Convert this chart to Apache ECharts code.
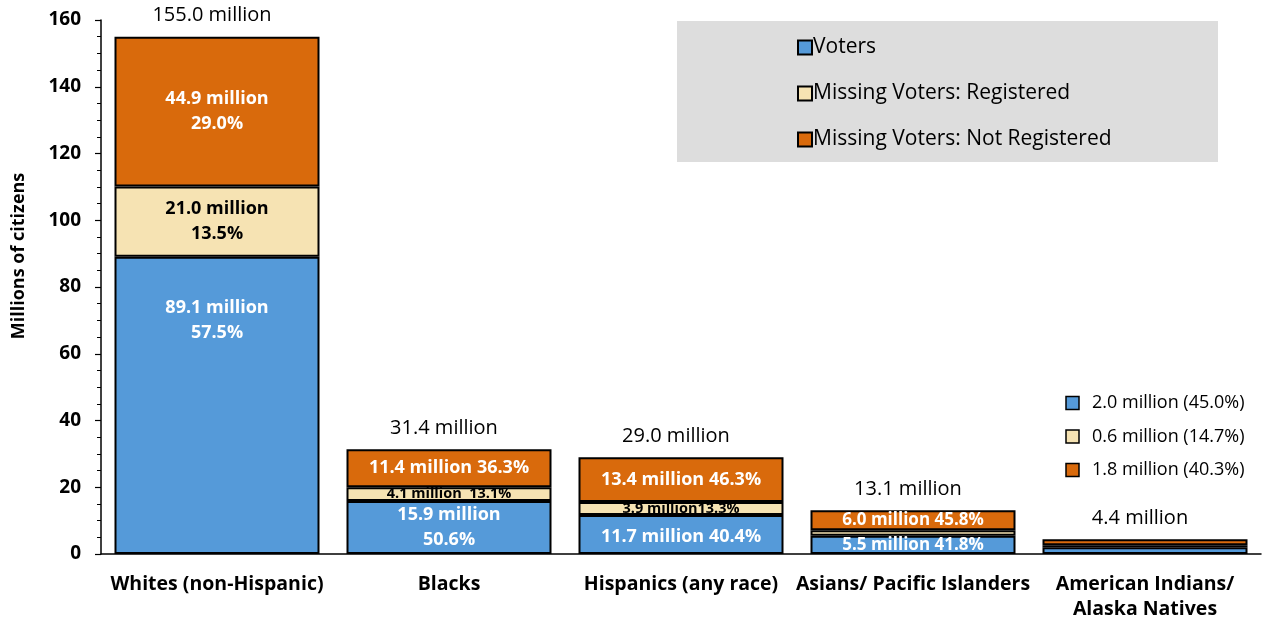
<!DOCTYPE html>
<html><head><meta charset="utf-8">
<script src="https://cdn.jsdelivr.net/npm/echarts@6/dist/echarts.min.js"></script>
<style>html,body{margin:0;padding:0;background:#fff}#c{width:1269px;height:623px}</style>
</head><body><div id="c"></div>
<script>
const categories = ['Whites (non-Hispanic)', 'Blacks', 'Hispanics (any race)', 'Asians/ Pacific Islanders', 'American Indians/\nAlaska Natives'];
const seriesNames = ['Voters', 'Missing Voters: Registered', 'Missing Voters: Not Registered'];
const voters = [89.1, 15.9, 11.7, 5.5, 2.0];
const registered = [21.0, 4.1, 3.9, 1.6, 0.6];
const notRegistered = [44.9, 11.4, 13.4, 6.0, 1.8];
const votersPct = ['57.5', '50.6', '40.4', '41.8', '45.0'];
const registeredPct = ['13.5', '13.1', '13.3', '12.4', '14.7'];
const notRegisteredPct = ['29.0', '36.3', '46.3', '45.8', '40.3'];
const totals = [155.0, 31.4, 29.0, 13.1, 4.4];
const yTicks = [0, 20, 40, 60, 80, 100, 120, 140, 160];

const FONT = 'Open Sans';
const colors = ['#559AD9', '#F6E3B3', '#D96A0C'];

// label layout per cell: [separator, font size, vertical offset] or null (no label)
const votersLbl = [['\n', 18, -85], ['\n', 18, 0], [' ', 18, 2], [' ', 17, 0], null];
const regLbl = [['\n', 18, 0], ['  ', 14.5, 0], ['', 14.5, 0], null, null];
const notRegLbl = [['\n', 18, 0], [' ', 18, 0], [' ', 18, 0], [' ', 17, 0], null];

function mkData(vals, pcts, lbls, color) {
  return vals.map((v, i) => {
    const l = lbls[i];
    return {
      value: v,
      label: l ? {
        show: true, position: 'inside', color: color, offset: [0, l[2]],
        fontFamily: FONT, fontWeight: 'bold', fontSize: l[1], lineHeight: l[1] + 7,
        formatter: () => v.toFixed(1) + ' million' + l[0] + pcts[i] + '%'
      } : { show: false }
    };
  });
}

const chart = echarts.init(document.getElementById('c'), null, { renderer: 'canvas' });
const barBase = { type: 'bar', stack: 'a', barWidth: 205, itemStyle: { borderColor: '#000', borderWidth: 2 } };

// small legend for the last category
const smallVals = [voters[4], registered[4], notRegistered[4]];
const smallPcts = [votersPct[4], registeredPct[4], notRegisteredPct[4]];
const smallGraphics = [];
smallVals.forEach((v, i) => {
  const y = 403 + i * 33.5;
  smallGraphics.push({ type: 'rect', shape: { x: 1066, y: y - 6.5, width: 13, height: 13 }, style: { fill: colors[i], stroke: '#000', lineWidth: 1.5 } });
  smallGraphics.push({ type: 'text', x: 1092, y: y, style: { text: v.toFixed(1) + ' million (' + smallPcts[i] + '%)', font: '18px "' + FONT + '"', fill: '#000', verticalAlign: 'middle' } });
});

chart.setOption({
  animation: false,
  textStyle: { fontFamily: FONT },
  grid: { left: 101, top: 20, width: 1160, bottom: 69, containLabel: false },
  legend: {
    orient: 'vertical', left: 792, top: 32, itemWidth: 14, itemHeight: 14, itemGap: 25,
    data: seriesNames.map((n, i) => ({ name: n, itemStyle: { color: colors[i], borderColor: '#000', borderWidth: 2 } })),
    textStyle: { fontFamily: FONT, fontSize: 21, color: '#000', padding: [0, 0, 0, -4] },
    icon: 'rect'
  },
  graphic: [
    { type: 'rect', z: -1, shape: { x: 677, y: 21, width: 541, height: 141 }, style: { fill: '#DDDDDD' } },
    { type: 'text', x: 19, y: 256, rotation: Math.PI / 2, style: { text: 'Millions of citizens', font: 'bold 18px "' + FONT + '"', fill: '#000', align: 'center', verticalAlign: 'middle' } }
  ].concat(smallGraphics),
  xAxis: {
    type: 'category', data: categories,
    axisLine: { lineStyle: { color: '#000', width: 1.5 } },
    axisTick: { show: false },
    axisLabel: { interval: 0, color: '#000', fontFamily: FONT, fontWeight: 'bold', fontSize: 19.5, margin: 18, lineHeight: 25 }
  },
  yAxis: {
    type: 'value', min: 0, max: 160, interval: 20,
    axisLine: { show: true, lineStyle: { color: '#000', width: 1.5 } },
    axisTick: { show: true, length: 6, lineStyle: { color: '#000', width: 1.2 } },
    minorTick: { show: true, splitNumber: 4, length: 4, lineStyle: { color: '#000', width: 1 } },
    splitLine: { show: false },
    axisLabel: { color: '#000', fontFamily: FONT, fontWeight: 'bold', fontSize: 19, margin: 20,
      formatter: v => yTicks.includes(v) ? String(v) : '' }
  },
  series: [
    Object.assign({}, barBase, { name: seriesNames[0], itemStyle: Object.assign({ color: colors[0] }, barBase.itemStyle), data: mkData(voters, votersPct, votersLbl, '#fff') }),
    Object.assign({}, barBase, { name: seriesNames[1], itemStyle: Object.assign({ color: colors[1] }, barBase.itemStyle), data: mkData(registered, registeredPct, regLbl, '#000') }),
    Object.assign({}, barBase, { name: seriesNames[2], itemStyle: Object.assign({ color: colors[2] }, barBase.itemStyle), data: mkData(notRegistered, notRegisteredPct, notRegLbl, '#fff') }),
    {
      type: 'scatter', name: 'total', symbolSize: 0, data: totals, silent: true,
      itemStyle: { opacity: 1, color: '#000' },
      label: { show: true, position: 'top', distance: 11, offset: [-5, 0], color: '#000', fontFamily: FONT, fontSize: 20,
        formatter: p => p.value.toFixed(1) + ' million' }
    }
  ]
});
</script></body></html>
